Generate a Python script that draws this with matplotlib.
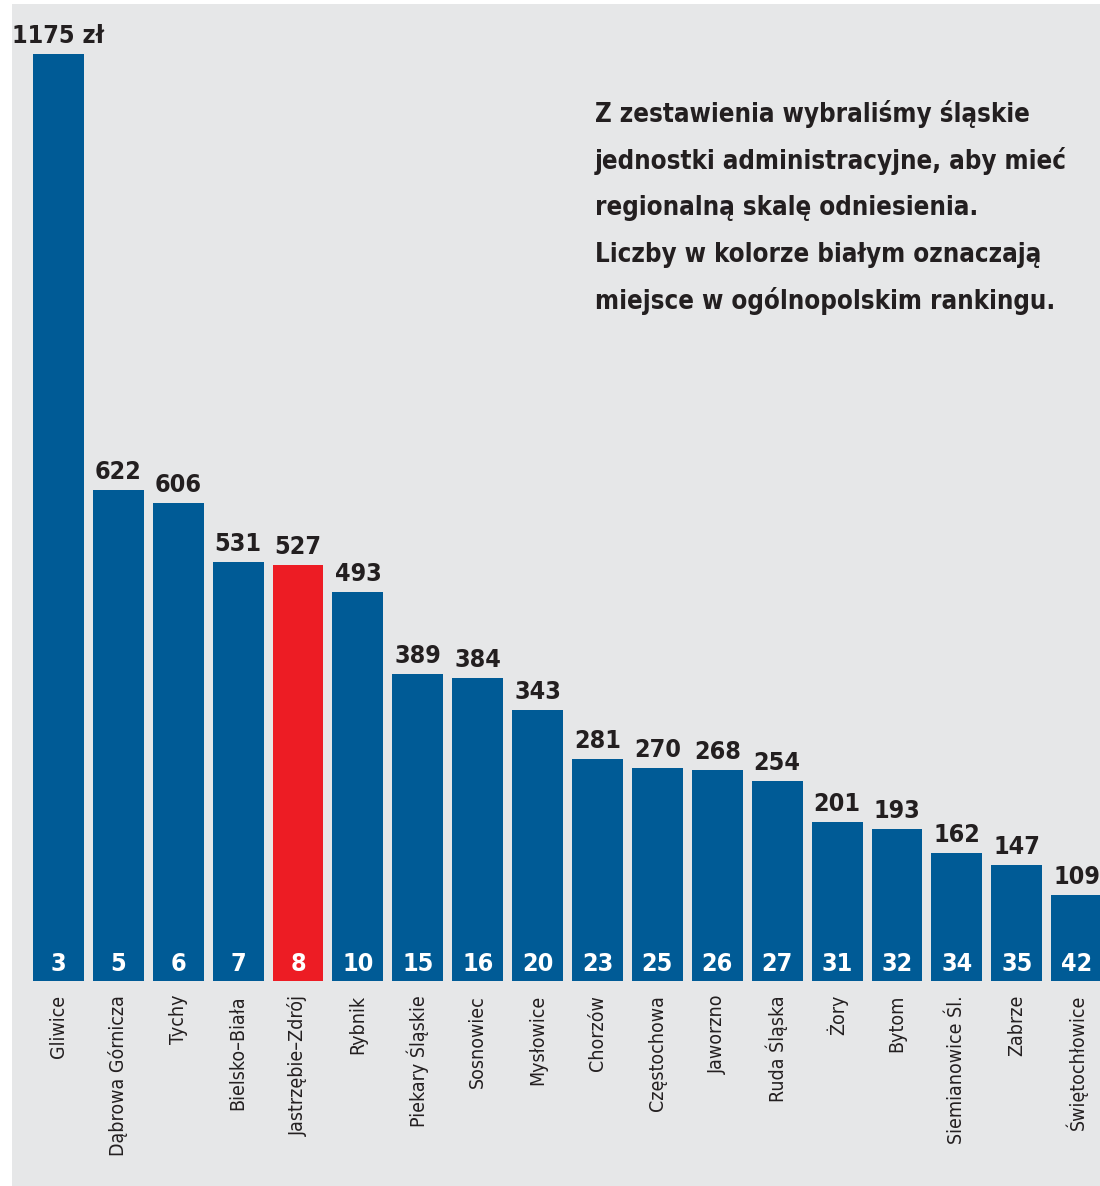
"""Śląskie cities: bar chart of values with national ranking numbers."""

import matplotlib
matplotlib.use("Agg")
import matplotlib.pyplot as plt
from matplotlib import font_manager
from matplotlib.patches import Rectangle

cities = [
    "Gliwice", "Dąbrowa Górnicza", "Tychy", "Bielsko–Biała", "Jastrzębie–Zdrój",
    "Rybnik", "Piekary Śląskie", "Sosnowiec", "Mysłowice", "Chorzów",
    "Częstochowa", "Jaworzno", "Ruda Śląska", "Żory", "Bytom",
    "Siemianowice Śl.", "Zabrze", "Świętochłowice",
]
values = [1175, 622, 606, 531, 527, 493, 389, 384, 343, 281,
          270, 268, 254, 201, 193, 162, 147, 109]
ranks = [3, 5, 6, 7, 8, 10, 15, 16, 20, 23, 25, 26, 27, 31, 32, 34, 35, 42]
highlight = "Jastrzębie–Zdrój"
note_lines = [
    "Z zestawienia wybraliśmy śląskie",
    "jednostki administracyjne, aby mieć",
    "regionalną skalę odniesienia.",
    "Liczby w kolorze białym oznaczają",
    "miejsce w ogólnopolskim rankingu.",
]

BLUE = "#005B96"
RED = "#ED1C24"
DARK = "#231F20"
PANEL = "#E6E7E8"

available = {f.name for f in font_manager.fontManager.ttflist}
if "Liberation Sans Narrow" in available:
    FONT, STRETCH = "Liberation Sans Narrow", "normal"
else:
    FONT, STRETCH = "DejaVu Sans", "condensed"
plt.rcParams["font.family"] = [FONT, "DejaVu Sans"]
plt.rcParams["font.stretch"] = STRETCH

W, H = 1100, 1186
fig = plt.figure(figsize=(W / 100, H / 100), dpi=100, facecolor="white")
fig.patches.append(Rectangle((12 / W, 0), 1 - 12 / W, 1 - 4 / H,
                             transform=fig.transFigure, facecolor=PANEL,
                             edgecolor="none", zorder=-10))

# bar area: baseline at y=981 px, top value at y=54 px
ax = fig.add_axes([12 / W, (H - 981) / H, 1 - 12 / W, 927 / H])
ax.set_facecolor("none")
ax.set_zorder(1)
x = list(range(len(cities)))
colors = [RED if c == highlight else BLUE for c in cities]
ax.bar(x, values, width=0.85, color=colors, zorder=2)
ax.set_xlim(-0.776, 17.39)
ax.set_ylim(0, max(values))
ax.axis("off")

for i, (v, r, c) in enumerate(zip(values, ranks, cities)):
    label = f"{v} zł" if i == 0 else str(v)
    ax.annotate(label, (i, v), xytext=(0, 11), textcoords="offset pixels",
                ha="center", va="baseline", fontsize=18, fontweight="bold",
                color=DARK, annotation_clip=False)
    ax.annotate(str(r), (i, 0), xytext=(0, 10), textcoords="offset pixels",
                ha="center", va="baseline", fontsize=18, fontweight="bold",
                color="white", annotation_clip=False)
    ax.annotate(c, (i, 0), xytext=(0, -14), textcoords="offset pixels",
                ha="center", va="top", rotation=90, fontsize=14,
                color=DARK, annotation_clip=False)

for k, line in enumerate(note_lines):
    fig.text(595 / W, 1 - (122 + 46.7 * k) / H, line, ha="left",
             va="baseline", fontsize=18.5, fontweight="bold", color=DARK)

fig.savefig("out.png", dpi=100, facecolor="white")
